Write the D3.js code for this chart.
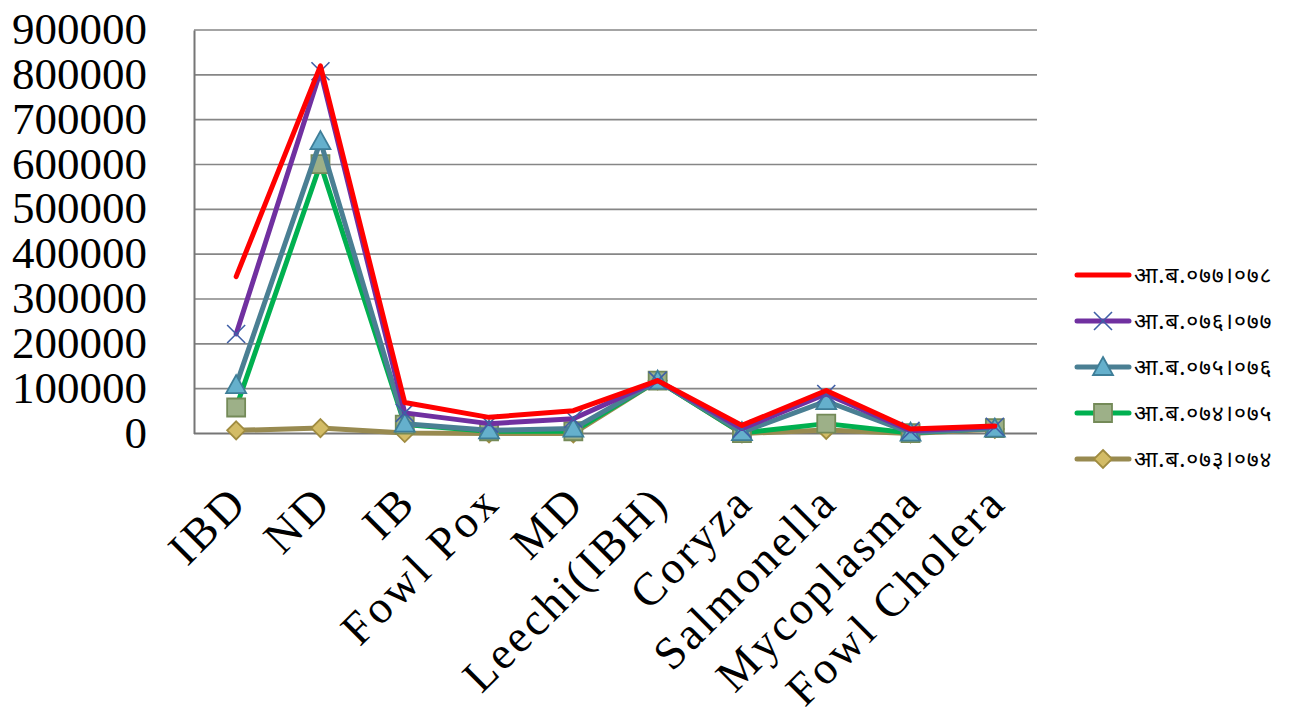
<!DOCTYPE html>
<html>
<head>
<meta charset="utf-8">
<script src="https://cdn.jsdelivr.net/npm/d3@7/dist/d3.min.js"></script>
<style>
  html, body { margin: 0; padding: 0; background: #fff; }
  svg { display: block; }
</style>
</head>
<body>
<svg id="chart" width="1290" height="713"></svg>
<script>
const categories = ["IBD", "ND", "IB", "Fowl Pox", "MD", "Leechi(IBH)", "Coryza", "Salmonella", "Mycoplasma", "Fowl Cholera"];
const seriesNames = ["आ.ब.०७७।०७८", "आ.ब.०७६।०७७", "आ.ब.०७५।०७६", "आ.ब.०७४।०७५", "आ.ब.०७३।०७४"];
const values077 = [350000, 820000, 69000, 36000, 51000, 118000, 18000, 96000, 10000, 17000];
const values076 = [222000, 808000, 46000, 22000, 33000, 118000, 11000, 88000, 6000, 15000];
const values075 = [108000, 652000, 22000, 7000, 11000, 118000, 3000, 72000, 2000, 11000];
const values074 = [58000, 601000, 20000, 5000, 5000, 118000, 1000, 22000, 1000, 12000];
const values073 = [7000, 12000, 1000, 0, 0, 118000, 0, 8000, 0, 10000];
const yTicks = [0, 100000, 200000, 300000, 400000, 500000, 600000, 700000, 800000, 900000];

const styles = [
  {line: "#FF0000", marker: "none"},
  {line: "#7030A0", marker: "x", mstroke: "#3F5FA6"},
  {line: "#4A7F93", marker: "triangle", mfill: "#65B0CC", mstroke: "#3E7E98"},
  {line: "#00B050", marker: "square", mfill: "#9DB088", mstroke: "#748A58"},
  {line: "#988A50", marker: "diamond", mfill: "#D3BC66", mstroke: "#A08C40"}
];
const seriesValues = [values077, values076, values075, values074, values073];

const svg = d3.select("#chart");
const plotLeft = 194, plotRight = 1037, plotTop = 30, plotBottom = 433.5;

const x = d3.scaleBand().domain(categories).range([plotLeft, plotRight]);
const y = d3.scaleLinear().domain([0, 900000]).range([plotBottom, plotTop]);

// gridlines
svg.append("g").selectAll("line").data(yTicks.filter(d => d > 0)).join("line")
  .attr("x1", plotLeft).attr("x2", plotRight)
  .attr("y1", d => y(d)).attr("y2", d => y(d))
  .attr("stroke", "#868686").attr("stroke-width", 1.6);

// y axis
const yAxis = svg.append("g").attr("transform", `translate(${plotLeft},0)`)
  .call(d3.axisLeft(y).tickValues(yTicks).tickFormat(d3.format("d")).tickSize(0).tickPadding(47));
yAxis.select(".domain").attr("stroke", "#767676").attr("stroke-width", 2);
yAxis.selectAll("text").attr("font-family", "'Liberation Serif', serif").attr("font-size", 45).attr("fill", "#000").attr("dy", "0.3em");

// x axis
const xAxis = svg.append("g").attr("transform", `translate(0,${plotBottom})`)
  .call(d3.axisBottom(x).tickSize(0).tickPadding(0));
xAxis.select(".domain").attr("stroke", "#767676").attr("stroke-width", 2).attr("d", `M${plotLeft},0H${plotRight}`);
xAxis.selectAll("text")
  .attr("font-family", "'Liberation Serif', serif").attr("font-size", 46).attr("fill", "#000")
  .attr("letter-spacing", 3)
  .attr("text-anchor", "end")
  .attr("transform", "translate(2,60) rotate(-45)")
  .attr("dy", "0.35em");

function markerPath(type, s) {
  const h = s / 2;
  if (type === "triangle") return `M0,${-h}L${h},${h*0.8}L${-h},${h*0.8}Z`;
  if (type === "square") return `M${-h},${-h}H${h}V${h}H${-h}Z`;
  if (type === "diamond") return `M0,${-h}L${h},0L0,${h}L${-h},0Z`;
  if (type === "x") return `M${-h},${-h}L${h},${h}M${h},${-h}L${-h},${h}`;
  return "";
}
function drawMarker(g, st, cx, cy) {
  if (st.marker === "none") return;
  const sizes = {triangle: 20, square: 18, diamond: 18, x: 18};
  const p = g.append("path").attr("d", markerPath(st.marker, sizes[st.marker]))
    .attr("transform", `translate(${cx},${cy})`);
  if (st.marker === "x") p.attr("fill", "none").attr("stroke", st.mstroke).attr("stroke-width", 1.6);
  else p.attr("fill", st.mfill).attr("stroke", st.mstroke).attr("stroke-width", 1.8);
}

const line = d3.line().x((d, i) => x(categories[i]) + x.bandwidth() / 2).y(d => y(d));
// draw order: oldest first, newest on top
for (let k = seriesValues.length - 1; k >= 0; k--) {
  const st = styles[k];
  const g = svg.append("g");
  g.append("path").datum(seriesValues[k]).attr("d", line)
    .attr("fill", "none").attr("stroke", st.line).attr("stroke-width", 5)
    .attr("stroke-linejoin", "round").attr("stroke-linecap", "round");
  seriesValues[k].forEach((v, i) => drawMarker(g, st, x(categories[i]) + x.bandwidth() / 2, y(v)));
}

// legend
const lg = svg.append("g");
const legendY = [275, 321, 367, 413, 459];
seriesNames.forEach((name, k) => {
  const st = styles[k];
  const row = lg.append("g");
  row.append("line").attr("x1", 1077).attr("x2", 1129).attr("y1", legendY[k]).attr("y2", legendY[k])
    .attr("stroke", st.line).attr("stroke-width", 5).attr("stroke-linecap", "round");
  drawMarker(row, st, 1103, legendY[k]);
  row.append("text").attr("x", 1134).attr("y", legendY[k]).attr("dy", "0.35em")
    .attr("font-family", "'Noto Sans', 'Noto Sans Devanagari', sans-serif").attr("font-size", 23)
    .attr("letter-spacing", 0.8).attr("fill", "#000")
    .text(name);
});
</script>
</body>
</html>
